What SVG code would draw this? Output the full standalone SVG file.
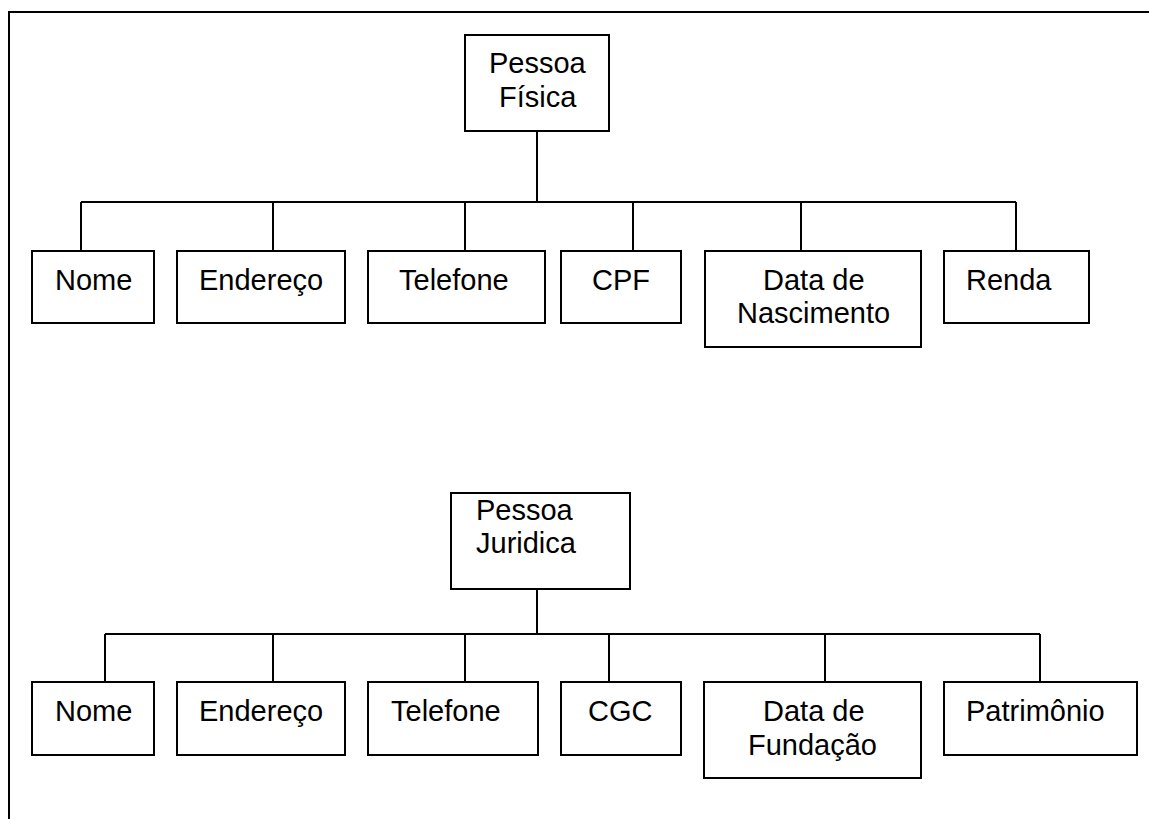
<svg xmlns="http://www.w3.org/2000/svg" width="1149" height="819" viewBox="0 0 1149 819">
  <style>
    .box { fill: #ffffff; stroke: #000000; stroke-width: 2; }
    .wire { fill: none; stroke: #000000; stroke-width: 2; }
    .lbl { font-family: "Liberation Sans", Arial, sans-serif; font-size: 29px; fill: #000000; }
  </style>
  <rect width="1149" height="819" fill="#ffffff"/>

  <!-- page frame (top and left edges visible) -->
  <path class="wire" d="M9,819 V12 H1149"/>

  <!-- connectors -->
  <g id="connectors">
    <!-- Pessoa Física tree -->
    <path class="wire" d="M537,131 V202"/>
    <path class="wire" d="M81,202 H1016"/>
    <path class="wire" d="M81,202 V251 M273,202 V251 M465,202 V251 M633,202 V251 M801,202 V251 M1016,202 V251"/>
    <!-- Pessoa Juridica tree -->
    <path class="wire" d="M537,589 V634"/>
    <path class="wire" d="M105,634 H1040"/>
    <path class="wire" d="M105,634 V682 M273,634 V682 M465,634 V682 M609,634 V682 M825,634 V682 M1040,634 V682"/>
  </g>

  <!-- Pessoa Física -->
  <g id="pf">
    <rect class="box" x="465" y="35" width="144" height="96"/>
    <text class="lbl" x="489" y="73">Pessoa</text>
    <text class="lbl" x="499" y="107">Física</text>
  </g>
  <g id="pf-nome">
    <rect class="box" x="32" y="251" width="122" height="72"/>
    <text class="lbl" x="55" y="290">Nome</text>
  </g>
  <g id="pf-endereco">
    <rect class="box" x="177" y="251" width="168" height="72"/>
    <text class="lbl" x="199" y="290">Endereço</text>
  </g>
  <g id="pf-telefone">
    <rect class="box" x="368" y="251" width="177" height="72"/>
    <text class="lbl" x="399" y="290">Telefone</text>
  </g>
  <g id="pf-cpf">
    <rect class="box" x="561" y="251" width="120" height="72"/>
    <text class="lbl" x="592" y="290">CPF</text>
  </g>
  <g id="pf-nascimento">
    <rect class="box" x="705" y="251" width="216" height="96"/>
    <text class="lbl" x="763" y="290">Data de</text>
    <text class="lbl" x="737" y="323">Nascimento</text>
  </g>
  <g id="pf-renda">
    <rect class="box" x="944" y="251" width="145" height="72"/>
    <text class="lbl" x="966" y="290">Renda</text>
  </g>

  <!-- Pessoa Juridica -->
  <g id="pj">
    <rect class="box" x="451" y="493" width="179" height="96"/>
    <text class="lbl" x="476" y="520">Pessoa</text>
    <text class="lbl" x="476" y="553">Juridica</text>
  </g>
  <g id="pj-nome">
    <rect class="box" x="32" y="682" width="122" height="73"/>
    <text class="lbl" x="55" y="721">Nome</text>
  </g>
  <g id="pj-endereco">
    <rect class="box" x="177" y="682" width="168" height="73"/>
    <text class="lbl" x="199" y="721">Endereço</text>
  </g>
  <g id="pj-telefone">
    <rect class="box" x="368" y="682" width="170" height="73"/>
    <text class="lbl" x="391" y="721">Telefone</text>
  </g>
  <g id="pj-cgc">
    <rect class="box" x="561" y="682" width="120" height="73"/>
    <text class="lbl" x="588" y="721">CGC</text>
  </g>
  <g id="pj-fundacao">
    <rect class="box" x="704" y="682" width="217" height="96"/>
    <text class="lbl" x="763" y="721">Data de</text>
    <text class="lbl" x="748" y="755">Fundação</text>
  </g>
  <g id="pj-patrimonio">
    <rect class="box" x="944" y="682" width="193" height="73"/>
    <text class="lbl" x="966" y="721">Patrimônio</text>
  </g>
</svg>
